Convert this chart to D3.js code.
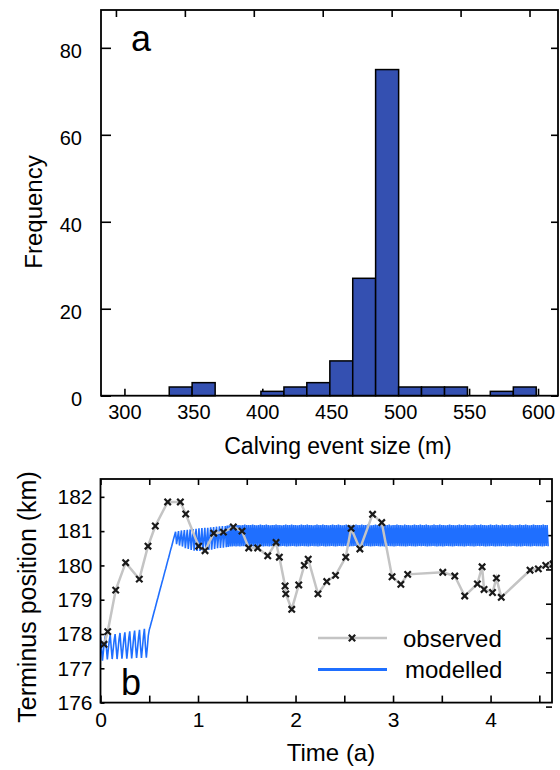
<!DOCTYPE html>
<html>
<head>
<meta charset="utf-8">
<script src="https://cdn.jsdelivr.net/npm/d3@7"></script>
<style>
  html, body { margin: 0; padding: 0; background: #fff; }
  svg { display: block; font-family: "Liberation Sans", Arial, sans-serif; }
</style>
</head>
<body>
<script>
// ---- panel a: histogram of calving event sizes ----
const histBinEdges = [332.5, 349.1, 365.8, 382.4, 399.0, 415.7, 432.3, 449.0, 465.6,
                      482.2, 498.9, 515.5, 532.2, 548.8, 565.4, 582.1, 598.7];
const histCounts = [2, 3, 0, 0, 1, 2, 3, 8, 27, 75, 2, 2, 2, 0, 1, 2];
const histXTicks = [300, 350, 400, 450, 500, 550, 600];
const histYTicks = [0, 20, 40, 60, 80];

// ---- panel b: terminus position ----
const obsTime = [0.036, 0.074, 0.156, 0.258, 0.398, 0.487, 0.562, 0.689, 0.819, 0.874,
                 1.007, 1.072, 1.161, 1.26, 1.362, 1.451, 1.52, 1.612, 1.715, 1.8,
                 1.834, 1.893, 1.9, 1.961, 2.033, 2.09, 2.13, 2.23, 2.32, 2.41,
                 2.515, 2.57, 2.66, 2.79, 2.884, 2.99, 3.08, 3.15, 3.51, 3.633,
                 3.735, 3.865, 3.913, 3.933, 4.02, 4.06, 4.11, 4.405, 4.49, 4.566, 4.64];
const obsPos = [177.70, 178.07, 179.28, 180.08, 179.60, 180.56, 181.15, 181.85, 181.85, 181.50,
                180.56, 180.43, 180.94, 180.97, 181.12, 181.00, 180.51, 180.51, 180.28, 180.67,
                180.24, 179.40, 179.17, 178.72, 179.43, 180.00, 180.18, 179.17, 179.53, 179.71,
                180.24, 181.08, 180.48, 181.49, 181.25, 179.67, 179.45, 179.74, 179.80, 179.69,
                179.11, 179.46, 179.96, 179.30, 179.21, 179.63, 179.07, 179.86, 179.90, 180.00, 180.04];

// modelled terminus, sampled every 0.01 a from t = 0
const modelStart = 0;
const modelStep = 0.01;
const modelPos = [
  // 0.00 - 0.49
  177.92,177.6,177.22,177.5,177.78, 177.95,177.6,177.26,177.55,177.8,
  177.98,177.6,177.27,177.55,177.82, 178.0,177.62,177.27,177.55,177.85,
  178.03,177.62,177.28,177.56,177.86, 178.05,177.62,177.28,177.56,177.88,
  178.08,177.64,177.29,177.58,177.9, 178.1,177.64,177.3,177.58,177.9,
  178.12,177.65,177.3,177.6,177.92, 178.15,177.66,177.31,177.6,177.95,
  // 0.50 - 0.77
  178.12,178.22,178.33,178.43,178.54,178.65,178.75,178.86,178.97,179.07,
  179.18,179.29,179.39,179.5,179.6,179.71,179.82,179.92,180.03,180.14,
  180.24,180.35,180.46,180.56,180.67,180.78,180.88,180.98,
  // 0.78 - 1.30
  180.62,180.8,181.0, 180.58,180.8,181.02, 180.55,180.8,181.03, 180.5,180.78,181.04,
  180.48,180.76,181.05, 180.45,180.75,181.06, 180.43,180.75,181.07, 180.42,180.76,181.08,
  180.42,180.76,181.09, 180.43,180.77,181.1, 180.44,180.78,181.1, 180.45,180.78,181.11,
  180.46,180.8,181.12, 180.48,180.8,181.13, 180.5,180.82,181.14, 180.51,180.83,181.15,
  180.52,180.84,181.15, 180.53,181.16,
  // 1.31 - 4.59
  180.54,181.17,180.55,181.17,180.55,181.18,180.56,181.17,180.55,181.18,180.56,181.18,180.55,181.17,180.56,181.18,180.56,181.19,180.55,181.18,
  180.56,181.18,180.57,181.18,180.56,181.19,180.55,181.18,180.56,181.17,180.56,181.18,180.57,181.19,180.56,181.18,180.55,181.18,180.56,181.19,
  180.56,181.18,180.55,181.17,180.56,181.18,180.57,181.18,180.56,181.19,180.56,181.18,180.55,181.18,180.56,181.17,180.57,181.18,180.56,181.19,
  180.55,181.18,180.56,181.18,180.56,181.19,180.57,181.18,180.56,181.18,180.55,181.17,180.56,181.18,180.56,181.19,180.57,181.18,180.56,181.18,
  180.56,181.19,180.55,181.18,180.56,181.18,180.57,181.17,180.56,181.18,180.56,181.19,180.55,181.18,180.56,181.18,180.57,181.19,180.56,181.18,
  180.55,181.18,180.56,181.17,180.56,181.18,180.57,181.19,180.56,181.18,180.55,181.18,180.56,181.19,180.57,181.18,180.56,181.17,180.56,181.18,
  180.57,181.19,180.56,181.18,180.55,181.18,180.56,181.17,180.56,181.18,180.57,181.19,180.56,181.18,180.55,181.18,180.56,181.19,180.56,181.18,
  180.56,181.18,180.57,181.19,180.56,181.18,180.55,181.17,180.56,181.18,180.56,181.19,180.57,181.18,180.56,181.18,180.55,181.18,180.56,181.19,
  180.55,181.18,180.56,181.18,180.57,181.19,180.56,181.17,180.56,181.18,180.55,181.18,180.56,181.19,180.57,181.18,180.56,181.18,180.56,181.17,
  180.56,181.19,180.55,181.18,180.56,181.18,180.57,181.17,180.56,181.18,180.56,181.19,180.55,181.18,180.56,181.18,180.57,181.19,180.56,181.18,
  180.57,181.18,180.56,181.19,180.55,181.18,180.56,181.17,180.56,181.18,180.57,181.19,180.56,181.18,180.55,181.18,180.56,181.19,180.56,181.18,
  180.55,181.18,180.56,181.17,180.57,181.18,180.56,181.19,180.56,181.18,180.55,181.18,180.56,181.17,180.57,181.18,180.56,181.19,180.56,181.18,
  180.56,181.18,180.55,181.19,180.56,181.18,180.57,181.18,180.56,181.17,180.56,181.18,180.55,181.19,180.56,181.18,180.57,181.18,180.56,181.19,
  180.57,181.18,180.56,181.18,180.55,181.17,180.56,181.18,180.56,181.19,180.57,181.18,180.56,181.18,180.55,181.19,180.56,181.18,180.56,181.17,
  180.56,181.19,180.57,181.18,180.56,181.18,180.55,181.18,180.56,181.19,180.56,181.18,180.57,181.17,180.56,181.18,180.55,181.18,180.56,181.19,
  180.55,181.18,180.56,181.18,180.57,181.19,180.56,181.18,180.56,181.17,180.55,181.18,180.56,181.19,180.57,181.18,180.56,181.18,180.56,181.18,
  180.56,181.18,180.55,181.19,180.56,181.18,180.57,181.18,180.56
];
const timeTicks = [0, 0.5, 1, 1.5, 2, 2.5, 3, 3.5, 4, 4.5];
const posTicks = [176, 177, 178, 179, 180, 181, 182];

const legendLabels = ['observed', 'modelled'];

const width = 560, height = 770;
const svg = d3.select('body').append('svg').attr('width', width).attr('height', height);

function styleAxis(g, fontSize) {
  g.select('.domain').remove();
  g.selectAll('.tick line').attr('stroke', '#000').attr('stroke-width', 1.6);
  g.selectAll('.tick text').attr('fill', '#000').style('font-size', fontSize + 'px')
    .style('font-family', '"Liberation Sans", Arial, sans-serif');
}

// ================= panel a =================
let aBox = {left: 101, right: 558, top: 10, bottom: 395.7};
let xA = d3.scaleLinear().domain([283, 614.5]).range([aBox.left, aBox.right]);
let yA = d3.scaleLinear().domain([0, 88.7]).range([aBox.bottom, aBox.top]);

let gA = svg.append('g');

gA.append('g')
  .attr('transform', 'translate(0,' + aBox.bottom + ')')
  .call(d3.axisBottom(xA).tickValues(histXTicks).tickSize(-7).tickPadding(9))
  .call(g => styleAxis(g, 20));

gA.append('g')
  .attr('transform', 'translate(-8.5,' + aBox.top + ')')
  .call(d3.axisTop(xA).tickValues(histXTicks).tickSize(-7).tickFormat(''))
  .call(g => styleAxis(g, 20));

gA.append('g')
  .attr('transform', 'translate(' + aBox.left + ',0)')
  .call(d3.axisLeft(yA).tickValues(histYTicks).tickSize(-10).tickPadding(19))
  .call(g => styleAxis(g, 20))
  .call(g => g.selectAll('.tick text').attr('dy', '0.5em'));

gA.append('g')
  .attr('transform', 'translate(' + aBox.right + ',0)')
  .call(d3.axisRight(yA).tickValues(histYTicks).tickSize(-7).tickFormat(''))
  .call(g => styleAxis(g, 20));

let bins = histCounts.map((c, i) => ({x0: histBinEdges[i], x1: histBinEdges[i + 1], count: c}))
  .filter(d => d.count > 0);

gA.selectAll('rect.bar')
  .data(bins)
  .enter().append('rect')
  .attr('class', 'bar')
  .attr('x', d => xA(d.x0))
  .attr('width', d => xA(d.x1) - xA(d.x0))
  .attr('y', d => yA(d.count))
  .attr('height', d => yA(0) - yA(d.count))
  .attr('fill', '#3450b1')
  .attr('stroke', '#000')
  .attr('stroke-width', 1.5);

gA.append('rect')
  .attr('x', aBox.left).attr('y', aBox.top)
  .attr('width', aBox.right - aBox.left).attr('height', aBox.bottom - aBox.top)
  .attr('fill', 'none').attr('stroke', '#000').attr('stroke-width', 1.8);

gA.append('text').attr('x', 131).attr('y', 51).style('font-size', '36px').text('a');

gA.append('text')
  .attr('x', 338).attr('y', 454).attr('text-anchor', 'middle')
  .style('font-size', '23px').text('Calving event size (m)');

gA.append('text')
  .attr('transform', 'translate(42,212) rotate(-90)')
  .attr('text-anchor', 'middle')
  .style('font-size', '24px').text('Frequency');

// ================= panel b =================
let bBox = {left: 100.5, right: 552, top: 479, bottom: 702.6};
let xB = d3.scaleLinear().domain([0, 4.63]).range([bBox.left, bBox.right]);
let yB = d3.scaleLinear().domain([176, 182.52]).range([bBox.bottom, bBox.top]);

let gB = svg.append('g');

gB.append('defs').append('clipPath').attr('id', 'clipB')
  .append('rect')
  .attr('x', bBox.left).attr('y', bBox.top)
  .attr('width', bBox.right - bBox.left).attr('height', bBox.bottom - bBox.top);

gB.append('g')
  .attr('transform', 'translate(0,' + bBox.bottom + ')')
  .call(d3.axisBottom(xB).tickValues(timeTicks).tickSize(-7).tickPadding(9)
    .tickFormat(d => Number.isInteger(d) ? d : ''))
  .call(g => styleAxis(g, 21));

gB.append('g')
  .attr('transform', 'translate(0,' + bBox.top + ')')
  .call(d3.axisTop(xB).tickValues(timeTicks).tickSize(-6).tickFormat(''))
  .call(g => styleAxis(g, 21));

gB.append('g')
  .attr('transform', 'translate(' + bBox.left + ',0)')
  .call(d3.axisLeft(yB).tickValues(posTicks).tickSize(-4).tickPadding(8).tickFormat(d3.format('d')))
  .call(g => styleAxis(g, 21));

gB.append('g')
  .attr('transform', 'translate(' + bBox.right + ',4)')
  .call(d3.axisRight(yB).tickValues(posTicks).tickSize(-6).tickFormat(''))
  .call(g => styleAxis(g, 21));

let modelled = modelPos.map((p, i) => ({t: modelStart + i * modelStep, p: p}));
let observed = obsTime.map((t, i) => ({t: t, p: obsPos[i]}));

let line = d3.line().x(d => xB(d.t)).y(d => yB(d.p));

let plotB = gB.append('g').attr('clip-path', 'url(#clipB)');

plotB.append('path')
  .datum(modelled)
  .attr('d', line)
  .attr('fill', 'none')
  .attr('stroke', '#1f6fff')
  .attr('stroke-width', 1.6);

plotB.append('path')
  .datum(observed)
  .attr('d', line)
  .attr('fill', 'none')
  .attr('stroke', '#c4c4c4')
  .attr('stroke-width', 2.5);

let xMark = d3.symbol().type(d3.symbolX).size(28);
plotB.selectAll('path.obs')
  .data(observed)
  .enter().append('path')
  .attr('class', 'obs')
  .attr('d', xMark)
  .attr('transform', d => 'translate(' + xB(d.t) + ',' + yB(d.p) + ')')
  .attr('fill', 'none')
  .attr('stroke', '#1a1a1a')
  .attr('stroke-width', 2.2);

gB.append('rect')
  .attr('x', bBox.left).attr('y', bBox.top)
  .attr('width', bBox.right - bBox.left).attr('height', bBox.bottom - bBox.top)
  .attr('fill', 'none').attr('stroke', '#000').attr('stroke-width', 1.8);

// legend
let legend = gB.append('g');
legend.append('line').attr('x1', 318).attr('x2', 387).attr('y1', 638).attr('y2', 638)
  .attr('stroke', '#c4c4c4').attr('stroke-width', 2.5);
legend.append('path').attr('d', xMark).attr('transform', 'translate(352,638)')
  .attr('fill', 'none').attr('stroke', '#1a1a1a').attr('stroke-width', 2.2);
legend.append('line').attr('x1', 318).attr('x2', 387).attr('y1', 669.5).attr('y2', 669.5)
  .attr('stroke', '#1f6fff').attr('stroke-width', 3);
legend.selectAll('text.leg')
  .data(legendLabels)
  .enter().append('text')
  .attr('class', 'leg')
  .attr('x', (d, i) => i === 0 ? 403 : 405)
  .attr('y', (d, i) => i === 0 ? 646.5 : 678)
  .style('font-size', '24px')
  .text(d => d);

gB.append('text').attr('x', 121).attr('y', 695).style('font-size', '36px').text('b');

gB.append('text')
  .attr('x', 331).attr('y', 761).attr('text-anchor', 'middle')
  .style('font-size', '24px').text('Time (a)');

gB.append('text')
  .attr('transform', 'translate(36,597) rotate(-90)')
  .attr('text-anchor', 'middle')
  .style('font-size', '25px').text('Terminus position (km)');
</script>
</body>
</html>
